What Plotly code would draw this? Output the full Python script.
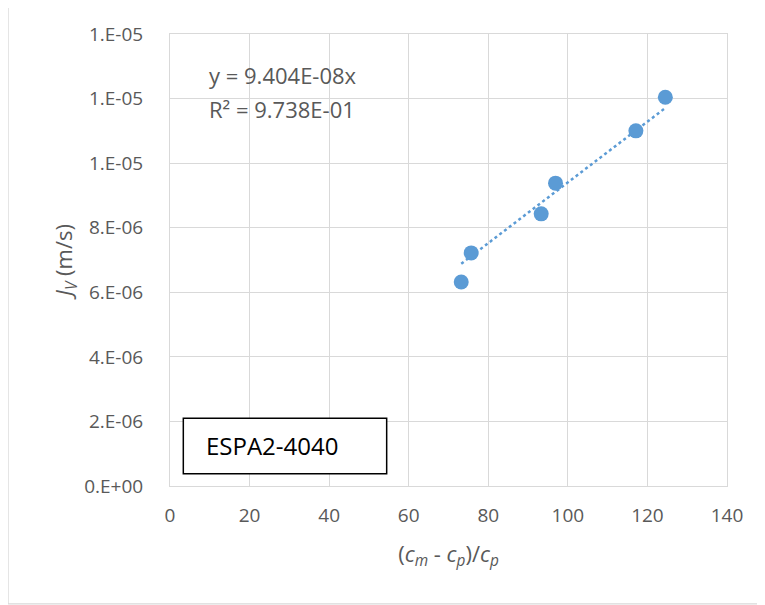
import plotly.graph_objects as go

# Data
x_vals = [73.2, 75.7, 93.3, 96.9, 117.1, 124.5]
jv_vals = [6.32e-6, 7.22e-6, 8.43e-6, 9.38e-6, 1.100e-5, 1.204e-5]
slope = 9.404e-8
x_ticks = [0, 20, 40, 60, 80, 100, 120, 140]
y_ticks = [0, 2e-6, 4e-6, 6e-6, 8e-6, 1.0e-5, 1.2e-5, 1.4e-5]
y_ticktext = ["0.E+00", "2.E-06", "4.E-06", "6.E-06", "8.E-06", "1.E-05", "1.E-05", "1.E-05"]
eq_text = "y = 9.404E-08x"
r2_text = "R² = 9.738E-01"
label_text = "ESPA2-4040"

BLUE = "#5B9BD5"
GRID = "#D9D9D9"
TXT = "#595959"
FONT = "Open Sans"

x_fit = [min(x_vals), max(x_vals)]
y_fit = [slope * v for v in x_fit]

fig = go.Figure()
fig.add_trace(go.Scatter(x=x_fit, y=y_fit, mode="lines",
                         line=dict(color=BLUE, width=2.5, dash="dot"),
                         showlegend=False, hoverinfo="skip"))
fig.add_trace(go.Scatter(x=x_vals, y=jv_vals, mode="markers",
                         marker=dict(color=BLUE, size=15),
                         showlegend=False))

fig.update_layout(
    width=765, height=605,
    margin=dict(l=162, r=46, t=26, b=127),
    paper_bgcolor="white", plot_bgcolor="white",
    font=dict(family=FONT, color=TXT, size=19),
    xaxis=dict(range=[0, 140], tickvals=x_ticks, showgrid=True, gridcolor=GRID,
               gridwidth=1, zeroline=False, showline=True, linecolor=GRID,
               mirror=True, ticks="", ticklabelstandoff=12,
               tickfont=dict(size=19, color=TXT),
               title=dict(text="(<i>c</i><sub><i>m</i></sub> - <i>c</i><sub><i>p</i></sub>)/<i>c</i><sub><i>p</i></sub>",
                          font=dict(size=22, color=TXT), standoff=19)),
    yaxis=dict(range=[0, 1.4e-5], tickvals=y_ticks, ticktext=y_ticktext,
               showgrid=True, gridcolor=GRID, gridwidth=1, zeroline=False,
               showline=True, linecolor=GRID, mirror=True, ticks="",
               ticklabelstandoff=22, tickfont=dict(size=19, color=TXT),
               title=dict(text="<i>J</i><sub><i>V</i></sub> (m/s)",
                          font=dict(size=22, color=TXT), standoff=5)),
    shapes=[
        dict(type="rect", xref="paper", yref="paper",
             x0=-0.2908, x1=1.2, y0=-0.261, y1=1.064,
             line=dict(color=GRID, width=1.3), layer="below"),
        dict(type="rect", xref="paper", yref="paper",
             x0=0.0239, x1=0.389, y0=0.0272, y1=0.1498,
             line=dict(color="black", width=1.5), fillcolor="white"),
    ],
    annotations=[
        dict(text=eq_text, xref="paper", yref="paper", x=0.066, y=0.91,
             xanchor="left", yanchor="middle", showarrow=False,
             font=dict(size=22, color=TXT)),
        dict(text=r2_text, xref="paper", yref="paper", x=0.066, y=0.835,
             xanchor="left", yanchor="middle", showarrow=False,
             font=dict(size=22, color=TXT)),
        dict(text=label_text, xref="paper", yref="paper", x=0.061, y=0.0885,
             xanchor="left", yanchor="middle", showarrow=False,
             font=dict(size=24, color="black")),
    ],
)

fig.write_html("out.html")
